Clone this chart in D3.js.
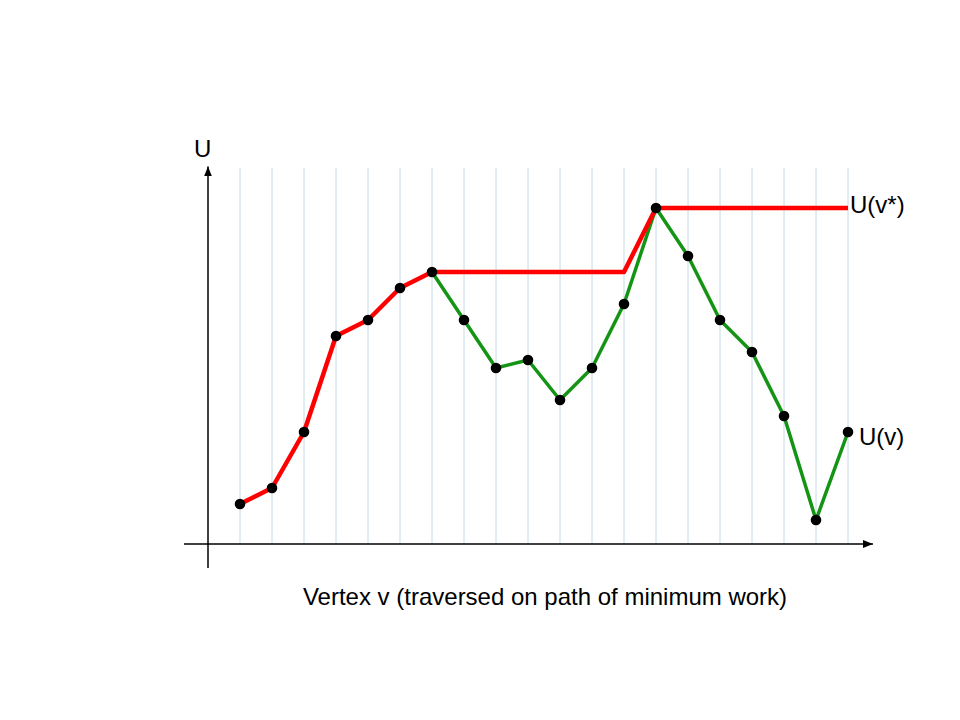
<!DOCTYPE html>
<html><head><meta charset="utf-8">
<script src="https://cdn.jsdelivr.net/npm/d3@7"></script>
<style>body{margin:0;background:#fff}svg{display:block}text{font-family:"Liberation Sans",Arial,sans-serif;fill:#000}</style>
</head><body><svg id="c" width="960" height="720"></svg>
<script>
const vertices = d3.range(1, 21);
const uValues = [2.5, 3.5, 7, 13, 14, 16, 17, 14, 11, 11.5, 9, 11, 15, 21, 18, 14, 12, 8, 1.5, 7];
const greenStart = 7;
const envelopeX = [1, 2, 3, 4, 5, 6, 7, 13, 14, 20];
const envelopeU = [2.5, 3.5, 7, 13, 14, 16, 17, 17, 21, 21];
const yLabel = "U";
const xLabel = "Vertex v (traversed on path of minimum work)";
const envLabel = "U(v*)";
const curveLabel = "U(v)";

const svg = d3.select("#c");
const x = d3.scaleLinear().domain([0, 20]).range([208, 848]);
const y = d3.scaleLinear().domain([0, 23.5]).range([544, 168]);

// grid
svg.append("g").selectAll("line").data(vertices).join("line")
  .attr("x1", d => x(d)).attr("x2", d => x(d))
  .attr("y1", y(23.5)).attr("y2", y(0))
  .attr("stroke", "#c6dce6").attr("stroke-width", 1);

// axes
const defs = svg.append("defs");
defs.append("marker").attr("id", "ar").attr("viewBox", "0 0 10 10")
  .attr("refX", 10).attr("refY", 5).attr("markerWidth", 10).attr("markerHeight", 10)
  .attr("markerUnits", "userSpaceOnUse").attr("orient", "auto")
  .append("path").attr("d", "M0,1 L10,5 L0,9 Z").attr("fill", "#000");

svg.append("line").attr("x1", x(-0.75)).attr("x2", x(20.78))
  .attr("y1", y(0)).attr("y2", y(0)).attr("stroke", "#000").attr("stroke-width", 1.5)
  .attr("marker-end", "url(#ar)");
svg.append("line").attr("x1", x(0)).attr("x2", x(0))
  .attr("y1", y(-1.5)).attr("y2", y(23.6)).attr("stroke", "#000").attr("stroke-width", 1.5)
  .attr("marker-end", "url(#ar)");

const pts = vertices.map((v, i) => ({v, u: uValues[i]}));
const line = d3.line().x(d => x(d.v)).y(d => y(d.u));

svg.append("path").datum(pts.filter(d => d.v >= greenStart))
  .attr("d", line).attr("fill", "none").attr("stroke", "#149414")
  .attr("stroke-width", 3.5).attr("stroke-linejoin", "round");

const env = envelopeX.map((v, i) => ({v, u: envelopeU[i]}));
svg.append("path").datum(env)
  .attr("d", line).attr("fill", "none").attr("stroke", "#ff0000")
  .attr("stroke-width", 4.5).attr("stroke-linejoin", "round");

svg.append("g").selectAll("circle").data(pts).join("circle")
  .attr("cx", d => x(d.v)).attr("cy", d => y(d.u)).attr("r", 5.3).attr("fill", "#000");

svg.append("text").attr("x", 194).attr("y", 157).attr("font-size", 24).text(yLabel);
svg.append("text").attr("x", 850).attr("y", 213).attr("font-size", 24).text(envLabel);
svg.append("text").attr("x", 859).attr("y", 445).attr("font-size", 24).text(curveLabel);
svg.append("text").attr("x", 545).attr("y", 605).attr("font-size", 24)
  .attr("text-anchor", "middle").text(xLabel);
</script></body></html>
